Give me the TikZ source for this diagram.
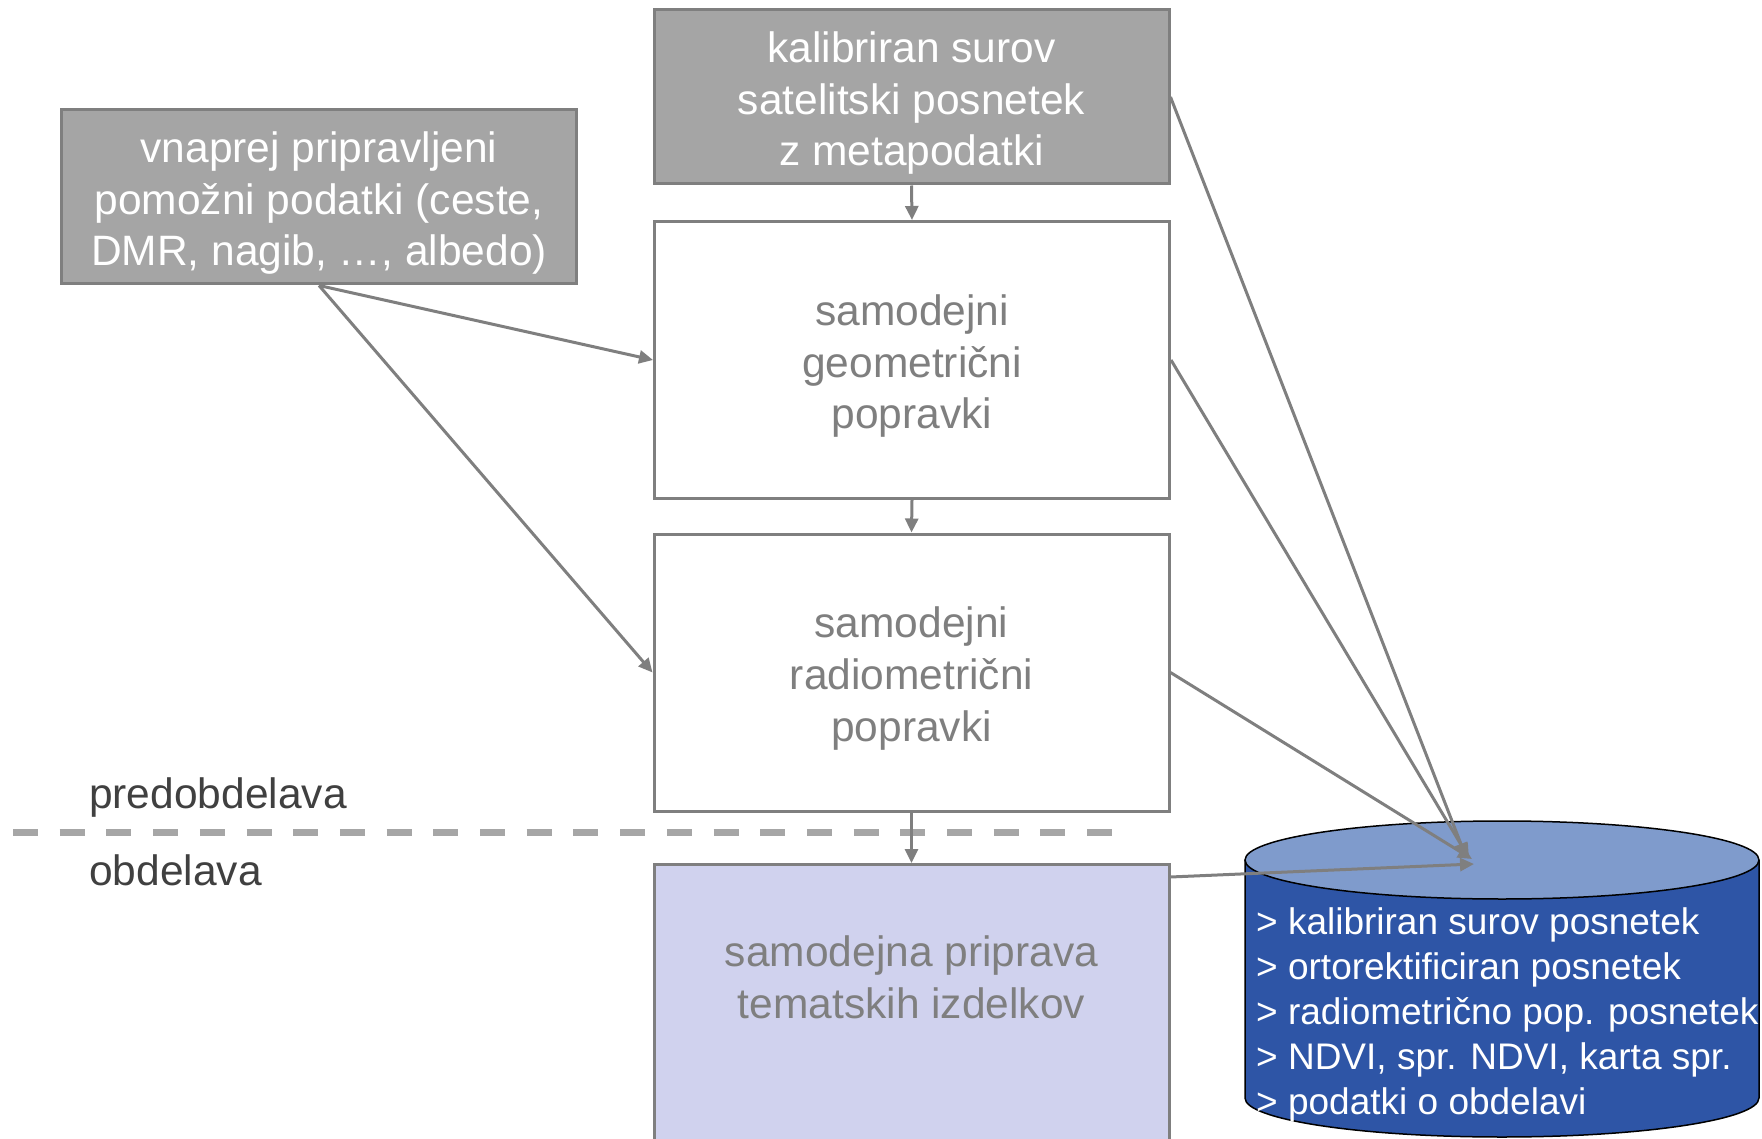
\documentclass[tikz,border=0pt]{standalone}
\usepackage{fontspec}
\setmainfont{Liberation Sans}
\usetikzlibrary{arrows.meta,calc}
\definecolor{boxgray}{HTML}{A5A5A5}
\definecolor{linegray}{HTML}{7F7F7F}
\definecolor{dashgray}{HTML}{A6A6A6}
\definecolor{lavender}{HTML}{D0D2EE}
\definecolor{cylbody}{HTML}{2E55A6}
\definecolor{cyltop}{HTML}{7F9BCC}
\definecolor{labelgray}{HTML}{404040}
\newcommand{\fstrut}{\rule{0pt}{43pt}}
\begin{document}
\begin{tikzpicture}[x=1pt,y=-1pt,
  bigfont/.style={font=\fontsize{42.5}{51.7}\selectfont},
  graybox/.style={draw=linegray, line width=3pt, fill=boxgray, text=white, bigfont, align=center,
     minimum width=515pt, minimum height=174pt, inner sep=0pt},
  whitebox/.style={draw=linegray, line width=3pt, fill=white, text=linegray, bigfont, align=center,
     minimum width=515pt, minimum height=277pt, inner sep=0pt},
  conn/.style={draw=linegray, line width=3pt, -{Triangle[length=14pt,width=13pt]}},
  sectlabel/.style={text=labelgray, bigfont, anchor=west, inner sep=0pt}
]
\useasboundingbox (0,0) rectangle (1762,1139);

% boxes
\node[graybox] (A) at (911.5,97) {\fstrut kalibriran surov\\satelitski posnetek\\z metapodatki};
\node[graybox] (B) at (319,197) {\fstrut vnaprej pripravljeni\\pomožni podatki (ceste,\\DMR, nagib, …, albedo)};
\node[whitebox] (C) at (912,360) {\fstrut samodejni\\geometrični\\popravki};
\node[whitebox] (D) at (911.5,672.5) {\fstrut samodejni\\radiometrični\\popravki};
\node[whitebox, fill=lavender, minimum height=290pt, anchor=north] (E) at (911.5,863) {};
\node[text=linegray, bigfont, align=center] (Etext) at (911.5,977) {samodejna priprava\\tematskih izdelkov};

% section separator
\draw[dashgray, line width=7pt, dash pattern=on 25pt off 21.7pt] (13,832) -- (1112,832);
\node[sectlabel] (pre) at (89,797.5) {predobdelava};
\node[sectlabel] (obd) at (89,870) {obdelava};

% database cylinder
\fill[cylbody] (1245,860) rectangle (1759,1098);
\fill[cylbody] (1502,1098) ellipse[x radius=257, y radius=39];
\draw[black, line width=1.5pt] (1245,860) -- (1245,1098)
   arc[start angle=180, end angle=0, x radius=257, y radius=39] -- (1759,860);
\filldraw[fill=cyltop, draw=black, line width=1.5pt] (1502,860) ellipse[x radius=257, y radius=39];
\node[text=white, font=\fontsize{37}{45}\selectfont, align=left, anchor=west, inner sep=0pt] (db) at (1256,1015)
  {> kalibriran surov posnetek\\> ortorektificiran posnetek\\> radiometrično pop. posnetek\\> NDVI, spr. NDVI, karta spr.\\> podatki o obdelavi};

\coordinate (tA) at (1466,857);
\coordinate (tC) at (1469,858);
\coordinate (tD) at (1472,859);
\coordinate (tE) at (1474,864);

% connectors
\draw[conn] (A.south) -- (C.north);
\draw[conn] (C.south) -- (D.north);
\draw[conn] (D.south) -- (E.north);
\draw[conn] (B.south) -- (C.west);
\draw[conn] (B.south) -- (D.west);
\draw[conn] (A.east) -- (tA);
\draw[conn] (C.east) -- (tC);
\draw[conn] (D.east) -- (tD);
\draw[conn] ($(E.north east)+(0,14)$) -- (tE);
\end{tikzpicture}
\end{document}
